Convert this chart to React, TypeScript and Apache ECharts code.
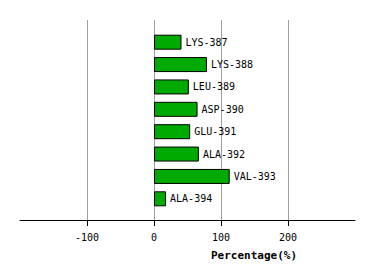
import React, { useEffect, useRef } from "react";
import * as echarts from "echarts";

const categories = ["LYS-387", "LYS-388", "LEU-389", "ASP-390", "GLU-391", "ALA-392", "VAL-393", "ALA-394"];
const values = [41, 79, 52, 65, 54, 67, 113, 18];
const axisMin = -200;
const axisMax = 300;
const axisTitle = "Percentage(%)";

const FONT = "DejaVu Sans Mono";

export default function App() {
  const ref = useRef<HTMLDivElement>(null);
  useEffect(() => {
    if (!ref.current) return;
    const chart = echarts.init(ref.current, undefined, { renderer: "svg" });
    chart.setOption({
      animation: false,
      backgroundColor: "#ffffff",
      grid: [
        { left: 20, right: 19, top: 20, bottom: 60 },
        { left: 20, right: 19, top: 31, bottom: 70 },
      ],
      xAxis: [
        {
          gridIndex: 0,
          type: "value",
          min: axisMin,
          max: axisMax,
          interval: 100,
          axisLine: { show: true, onZero: false, lineStyle: { color: "#000", width: 1 } },
          axisTick: { show: true, length: 6, lineStyle: { color: "#000" } },
          axisLabel: {
            showMinLabel: false,
            showMaxLabel: false,
            margin: 12,
            color: "#000",
            fontFamily: FONT,
            fontSize: 10,
          },
          splitLine: {
            show: true,
            showMinLine: false,
            showMaxLine: false,
            lineStyle: { color: "#a0a0a0", width: 1 },
          },
        },
        {
          gridIndex: 1,
          type: "value",
          min: axisMin,
          max: axisMax,
          show: false,
          splitLine: { show: false },
        },
      ],
      yAxis: [
        { gridIndex: 0, type: "value", show: false, splitLine: { show: false } },
        {
          gridIndex: 1,
          type: "category",
          data: categories,
          inverse: true,
          show: false,
        },
      ],
      graphic: [
        {
          type: "text",
          x: 254,
          y: 255,
          style: {
            text: axisTitle,
            fill: "#000",
            font: `bold 11px "${FONT}"`,
            textAlign: "center",
            textVerticalAlign: "middle",
          },
        },
      ],
      series: [
        {
          type: "bar",
          xAxisIndex: 1,
          yAxisIndex: 1,
          data: values,
          barWidth: 15,
          itemStyle: { color: "#00aa00", borderColor: "#000", borderWidth: 1 },
          label: {
            show: true,
            position: "right",
            distance: 4,
            formatter: (p: any) => categories[p.dataIndex],
            color: "#000",
            fontFamily: FONT,
            fontSize: 10,
          },
        },
      ],
    });
    return () => chart.dispose();
  }, []);
  return (
    <div
      ref={ref}
      style={{ position: "fixed", left: 0, top: 0, width: 374, height: 280 }}
    />
  );
}
